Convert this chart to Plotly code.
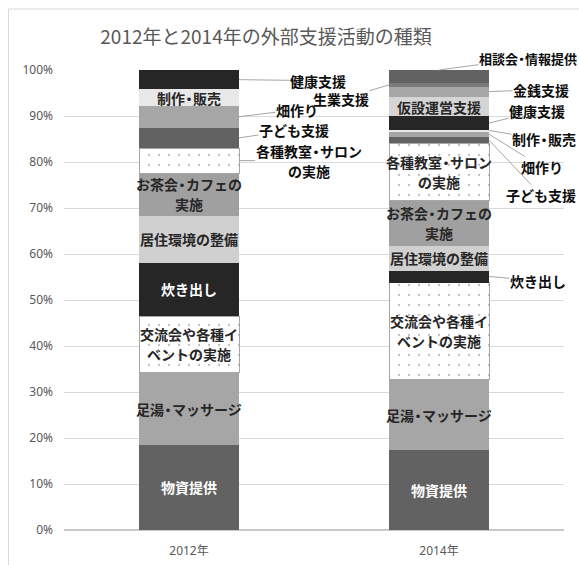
import re
import plotly.graph_objects as go

# ---------------- data ----------------
categories = ["2012年", "2014年"]
series_names = [
    "物資提供", "足湯・マッサージ", "交流会や各種イベントの実施", "炊き出し",
    "居住環境の整備", "お茶会・カフェの実施", "各種教室・サロンの実施", "子ども支援",
    "畑作り", "制作・販売", "健康支援", "仮設運営支援", "金銭支援", "生業支援",
    "相談会・情報提供",
]
values_2012 = [18.5, 15.8, 12.2, 11.6, 10.2, 9.3, 5.4, 4.5, 4.7, 3.6, 4.2, 0, 0, 0, 0]
values_2014 = [17.4, 15.4, 21.0, 2.6, 5.3, 10.0, 12.4, 1.3, 1.3, 0.3, 2.9, 4.3, 2.2, 0.7, 2.9]
y_tick_vals = [0, 0.1, 0.2, 0.3, 0.4, 0.5, 0.6, 0.7, 0.8, 0.9, 1.0]

# ---------------- styles ----------------
FONT = "Noto Sans CJK JP"
colors = {
    "物資提供": "#626262", "足湯・マッサージ": "#a6a6a6", "交流会や各種イベントの実施": "#ffffff",
    "炊き出し": "#262626", "居住環境の整備": "#d0d0d0", "お茶会・カフェの実施": "#a0a0a0",
    "各種教室・サロンの実施": "#ffffff", "子ども支援": "#626262", "畑作り": "#a6a6a6",
    "制作・販売": "#e8e8e8", "健康支援": "#262626", "仮設運営支援": "#d5d5d5",
    "金銭支援": "#a6a6a6", "生業支援": "#7a7a7a", "相談会・情報提供": "#626262",
}
dotted = {"交流会や各種イベントの実施", "各種教室・サロンの実施"}
label_lines = {
    "交流会や各種イベントの実施": ["交流会や各種イ", "ベントの実施"],
    "お茶会・カフェの実施": ["お茶会・カフェの", "実施"],
    "各種教室・サロンの実施": ["各種教室・サロン", "の実施"],
}
white_text = {"物資提供", "炊き出し"}
font_size = {"相談会・情報提供": 13}

inside_labels = {
    0: ["物資提供", "足湯・マッサージ", "交流会や各種イベントの実施", "炊き出し",
        "居住環境の整備", "お茶会・カフェの実施", "制作・販売"],
    1: ["物資提供", "足湯・マッサージ", "交流会や各種イベントの実施", "居住環境の整備",
        "お茶会・カフェの実施", "各種教室・サロンの実施", "仮設運営支援"],
}
# outside labels: (series, year index, anchor side, ax, ay) in pixels
outside_labels = [
    ("健康支援", 0, "right", 79, 1),
    ("畑作り", 0, "right", 58, -7),
    ("子ども支援", 0, "right", 55, -8),
    ("各種教室・サロンの実施", 0, "right", 70, 0),
    ("生業支援", 1, "left", -48, 14),
    ("相談会・情報提供", 1, "top", 89, -12),
    ("金銭支援", 1, "right", 52, -2),
    ("健康支援", 1, "right", 48, -12),
    ("制作・販売", 1, "right", 55, 9),
    ("畑作り", 1, "right", 53, 33),
    ("子ども支援", 1, "right", 52, 55),
    ("炊き出し", 1, "right", 49, 4),
]
BAR_W = 0.4
LINE_GAP = 20
LEADER = dict(arrowhead=0, arrowwidth=1, arrowcolor="#a6a6a6", standoff=0)


def rich(s):
    # tighten the full-width middle dot like a proportional Japanese font
    s = re.sub(r"(.・)", r'<span style="letter-spacing:-3px">\1</span>', s)
    return "<b>" + s + "</b>"


fig = go.Figure()
xs = list(range(len(categories)))
for i, name in enumerate(series_names):
    vals = [values_2012[i] / 100, values_2014[i] / 100]
    marker = dict(color=colors[name], line=dict(width=0))
    if name in dotted:
        marker = dict(color="white",
                      pattern=dict(shape=".", fgcolor="#7f7f7f", bgcolor="white",
                                   size=10, solidity=0.04),
                      line=dict(width=1, color="#a6a6a6"))
    fig.add_trace(go.Bar(x=xs, y=vals, width=BAR_W, name=name, marker=marker,
                         showlegend=False, hoverinfo="skip"))

all_vals = [values_2012, values_2014]


def seg(year, name):
    idx = series_names.index(name)
    v = all_vals[year]
    base = sum(v[:idx]) / 100
    return base, base + v[idx] / 100


def text_annots(x, y, name, xshift, yshift, color):
    lines = label_lines.get(name, [name])
    n = len(lines)
    out = []
    for k, line in enumerate(lines):
        out.append(dict(
            x=x, y=y, xref="x", yref="y", showarrow=False, text=rich(line), borderpad=0,
            xshift=xshift, yshift=yshift + ((n - 1) / 2 - k) * LINE_GAP,
            font=dict(family=FONT, size=font_size.get(name, 14), color=color),
        ))
    return out


annotations = []
for year, names in inside_labels.items():
    for name in names:
        b, t = seg(year, name)
        annotations += text_annots(xs[year], (b + t) / 2, name, 0, 0,
                                   "white" if name in white_text else "#262626")

for name, year, side, ax, ay in outside_labels:
    b, t = seg(year, name)
    if side == "right":
        px, py = xs[year] + BAR_W / 2, (b + t) / 2
    elif side == "left":
        px, py = xs[year] - BAR_W / 2, (b + t) / 2
    else:
        px, py = xs[year], t
    if name in label_lines:
        # leader to the left edge of the text block, then the lines themselves
        annotations.append(dict(x=px, y=py, xref="x", yref="y", ax=18, ay=ay,
                                showarrow=True, text=" ", font=dict(size=4), **LEADER))
        annotations += text_annots(px, py, name, ax, -ay, "#0d0d0d")
    else:
        annotations.append(dict(
            x=px, y=py, xref="x", yref="y", ax=ax, ay=ay, showarrow=True, borderpad=0,
            text=rich(name), font=dict(family=FONT, size=font_size.get(name, 14),
                                       color="#0d0d0d"), **LEADER))

W, H = 579, 565
fig.update_layout(
    width=W, height=H,
    margin=dict(l=64, r=15, t=70, b=35, autoexpand=False),
    barmode="stack", bargap=0.6,
    paper_bgcolor="white", plot_bgcolor="white",
    font=dict(family=FONT, color="#595959"),
    title=dict(text="2012年と2014年の外部支援活動の種類", xref="container", yref="container",
               x=266 / W, y=1 - 37 / H, xanchor="center",
               yanchor="middle", font=dict(family=FONT, size=19, color="#595959")),
    annotations=annotations,
    shapes=[
        dict(type="line", xref="paper", yref="paper", x0=-0.111, x1=-0.111,
             y0=-0.1, y1=1.1326, line=dict(color="#d9d9d9", width=1)),
        dict(type="line", xref="paper", yref="paper", x0=-0.111, x1=1.05,
             y0=1.1326, y1=1.1326, line=dict(color="#d9d9d9", width=1)),
    ],
)
fig.update_xaxes(range=[-0.5, 1.5], tickvals=xs, ticktext=categories, showgrid=False,
                 zeroline=False, showline=False, ticks="", ticklabelstandoff=12,
                 automargin=False,
                 tickfont=dict(family="Noto Sans, " + FONT, size=12, color="#595959"))
fig.update_yaxes(range=[0, 1], tickvals=y_tick_vals, tickformat=".0%", showgrid=True,
                 gridcolor="#d9d9d9", zeroline=True, zerolinecolor="#c8c8c8",
                 showline=False, ticks="", ticklabelstandoff=10, automargin=False,
                 tickfont=dict(family="Noto Sans", size=12, color="#595959"))

fig.write_html("out.html", config={"displayModeBar": False},
               post_script="document.body.style.margin='0';document.body.style.overflow='hidden';")
